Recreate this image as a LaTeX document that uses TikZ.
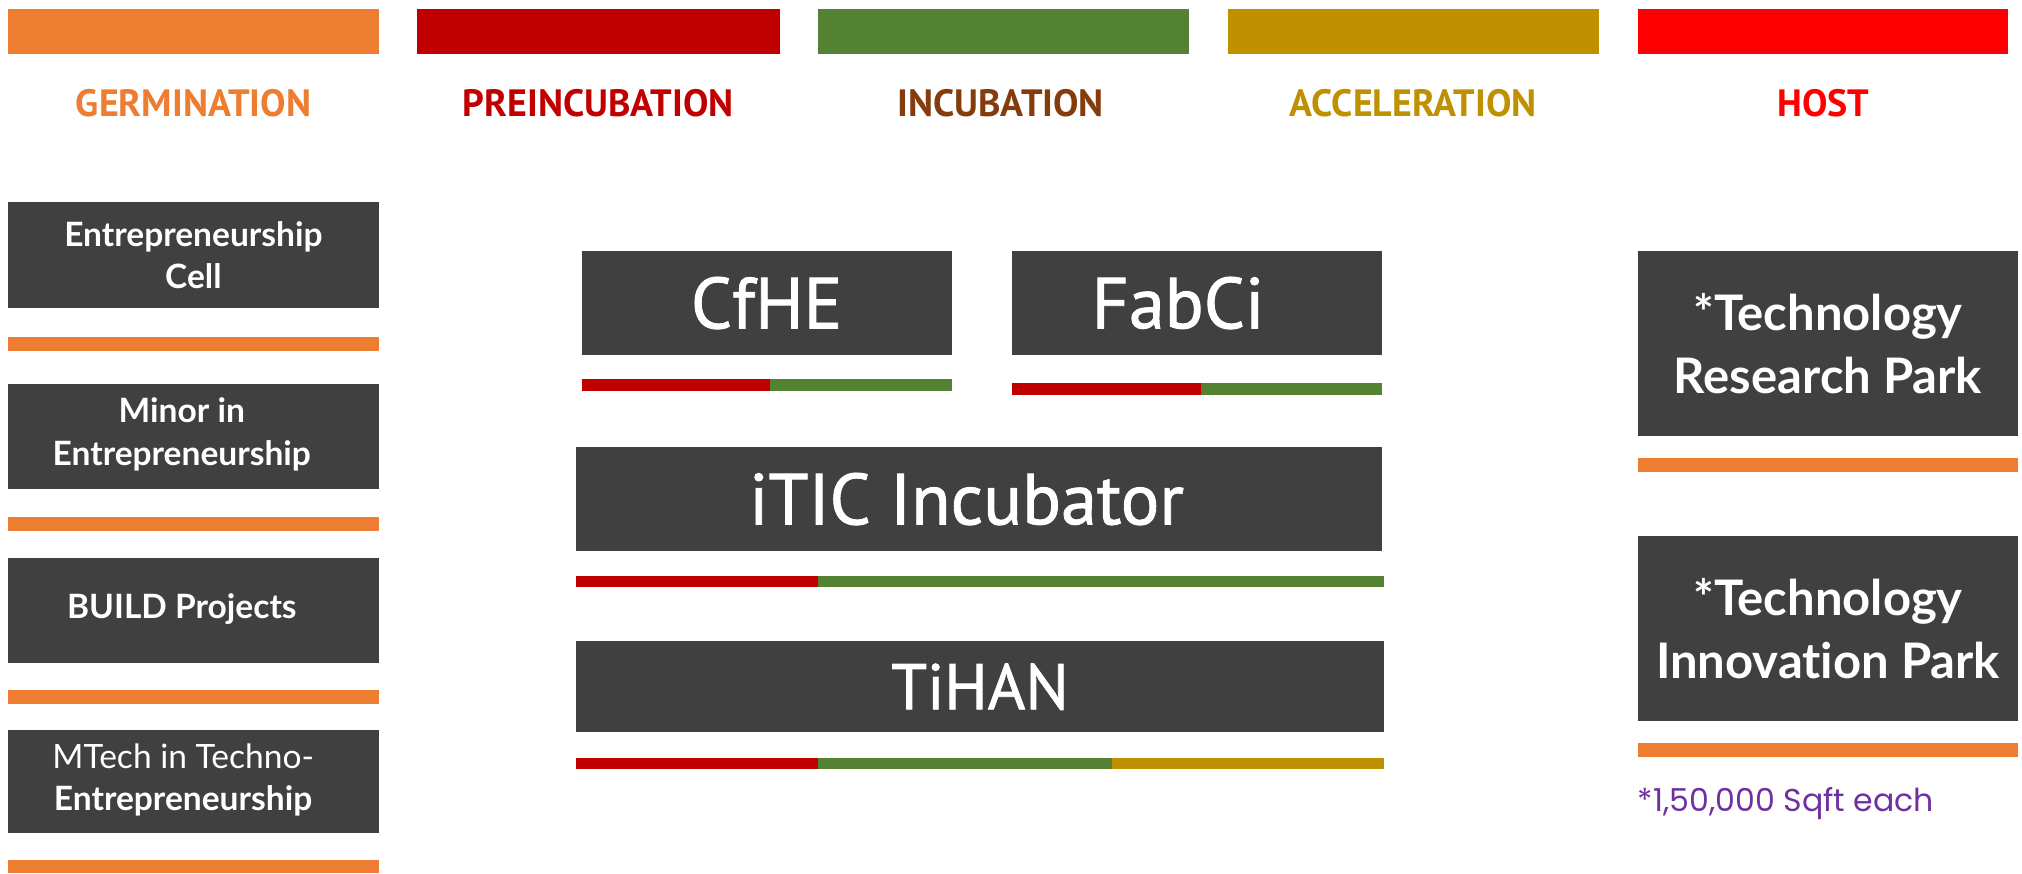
\documentclass[tikz,border=0pt]{standalone}
\usepackage{fontspec}
\setmainfont[Ligatures=NoCommon]{Lato}
\newfontfamily\ptsans{PT Sans}
\newfontfamily\ptsansb[FakeBold=1.2]{PT Sans}
\newfontfamily\popp{Poppins}
\definecolor{cOrange}{HTML}{ED7D31}
\definecolor{cDred}{HTML}{C00000}
\definecolor{cGreen}{HTML}{548235}
\definecolor{cGold}{HTML}{BF9000}
\definecolor{cRed}{HTML}{FF0000}
\definecolor{cBrown}{HTML}{843C0C}
\definecolor{cBox}{HTML}{404040}
\definecolor{cPurple}{HTML}{7030A0}
\tikzset{
  darkbox/.style={fill=cBox, draw=none, anchor=north west, inner sep=0pt, outer sep=0pt},
  phase/.style={font=\ptsans\bfseries\fontsize{29.5}{34}\selectfont, inner sep=0pt},
  lefttext/.style={text=white, align=center, font=\bfseries\fontsize{26}{33}\selectfont, inner sep=0pt},
  bigtext/.style={text=white, font=\ptsansb\fontsize{56}{64}\selectfont, inner sep=0pt},
  righttext/.style={text=white, align=center, font=\bfseries\fontsize{38}{49}\selectfont, inner sep=0pt},
}
\begin{document}
\begin{tikzpicture}[x=1pt,y=-1pt]
\useasboundingbox (0,0) rectangle (1568,677);
% top phase bars
\fill[cOrange] (6,7) rectangle (294,42);
\fill[cDred]   (323,7) rectangle (605,42);
\fill[cGreen]  (634,7) rectangle (922,42);
\fill[cGold]   (952,7) rectangle (1240,42);
\fill[cRed]    (1270,7) rectangle (1557,42);
% phase labels
\node[phase, text=cOrange] (germ) at (150,80) {GERMINATION};
\node[phase, text=cDred]   (pre)  at (464,80) {PREINCUBATION};
\node[phase, text=cBrown]  (inc)  at (776,80) {INCUBATION};
\node[phase, text=cGold]   (acc)  at (1096,80) {ACCELERATION};
\node[phase, text=cRed]    (host) at (1414,80) {HOST};
% left column
\node[darkbox, minimum width=288pt, minimum height=82pt] (ecell) at (6,157) {};
\node[lefttext] (ecellt) at ([xshift=0pt]ecell.center) {Entrepreneurship\\Cell};
\fill[cOrange] (6,261) rectangle (294,272);
\node[darkbox, minimum width=288pt, minimum height=81pt] (minor) at (6,298) {};
\node[lefttext] (minort) at ([xshift=-9pt,yshift=1.5pt]minor.center) {Minor in\\Entrepreneurship};
\fill[cOrange] (6,401) rectangle (294,412);
\node[darkbox, minimum width=288pt, minimum height=81pt] (build) at (6,433) {};
\node[lefttext] (buildt) at ([xshift=-9pt,yshift=1.5pt]build.center) {BUILD Projects};
\fill[cOrange] (6,535) rectangle (294,546);
\node[darkbox, minimum width=288pt, minimum height=80pt] (mtech) at (6,566) {};
\node[lefttext] (mtecht) at ([xshift=-8pt,yshift=1pt]mtech.center) {{\mdseries MTech in Techno-}\\Entrepreneurship};
\fill[cOrange] (6,667) rectangle (294,677);
% middle
\node[darkbox, minimum width=287pt, minimum height=80pt] (cfhe) at (451,195) {};
\node[bigtext] (cfhet) at (cfhe.center) {CfHE};
\fill[cDred]  (451,294) rectangle (597,303);
\fill[cGreen] (597,294) rectangle (738,303);
\node[darkbox, minimum width=287pt, minimum height=80pt] (fabci) at (785,195) {};
\node[bigtext] (fabcit) at ([xshift=-15pt]fabci.center) {FabCi};
\fill[cDred]  (785,297) rectangle (931,306);
\fill[cGreen] (931,297) rectangle (1072,306);
\node[darkbox, minimum width=625pt, minimum height=80pt] (itic) at (447,347) {};
\node[bigtext] (itict) at ([xshift=-10pt]itic.center) {iTIC Incubator};
\fill[cDred]  (447,447) rectangle (634,455);
\fill[cGreen] (634,447) rectangle (1073,455);
\node[darkbox, minimum width=626pt, minimum height=71pt] (tihan) at (447,497) {};
\node[bigtext, font=\ptsansb\fontsize{50}{58}\selectfont] (tihant) at (tihan.center) {TiHAN};
\fill[cDred]  (447,588) rectangle (634,596);
\fill[cGreen] (634,588) rectangle (862,596);
\fill[cGold]  (862,588) rectangle (1073,596);
% right column
\node[darkbox, minimum width=295pt, minimum height=143pt] (trp) at (1270,195) {};
\node[righttext] (trpt) at (trp.center) {*Technology\\Research Park};
\fill[cOrange] (1270,355) rectangle (1565,366);
\node[darkbox, minimum width=295pt, minimum height=143pt] (tip) at (1270,416) {};
\node[righttext] (tipt) at (tip.center) {*Technology\\Innovation Park};
\fill[cOrange] (1270,576) rectangle (1565,587);
\node[anchor=west, inner sep=0pt, text=cPurple, font=\popp\fontsize{24.5}{28}\selectfont] (note) at (1270,623) {*1,50,000 Sqft each};
\end{tikzpicture}
\end{document}
